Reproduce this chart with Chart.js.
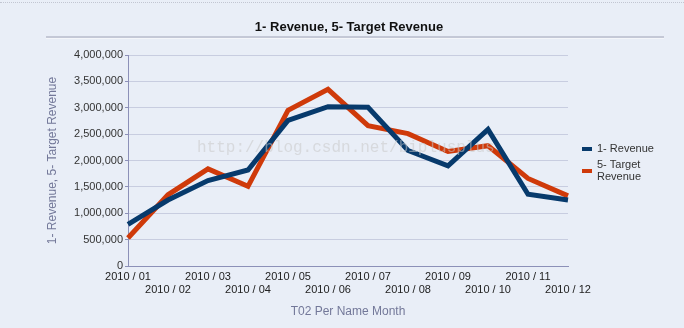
<!DOCTYPE html>
<html>
<head>
<meta charset="utf-8">
<script src="https://cdn.jsdelivr.net/npm/chart.js@4"></script>
<style>
  html, body { margin: 0; padding: 0; background: #e9eef7; }
  #wrap { position: relative; width: 684px; height: 328px; }
  #wrap:before { content: ''; position: absolute; left: 0; right: 0; top: 2px; border-top: 1px dotted #c2c6d2; }
</style>
</head>
<body>
<div id="wrap"><canvas id="chart" width="684" height="328"></canvas></div>
<script>
const months = ['2010 / 01', '2010 / 02', '2010 / 03', '2010 / 04', '2010 / 05', '2010 / 06',
  '2010 / 07', '2010 / 08', '2010 / 09', '2010 / 10', '2010 / 11', '2010 / 12'];
const revenue = [790000, 1250000, 1620000, 1820000, 2760000, 3020000,
  3010000, 2190000, 1900000, 2590000, 1360000, 1250000];
const targetRevenue = [530000, 1350000, 1840000, 1510000, 2950000, 3350000,
  2660000, 2510000, 2170000, 2280000, 1660000, 1330000];
const seriesNames = ['1- Revenue', '5- Target Revenue'];
const legendLines = [['1- Revenue'], ['5- Target', 'Revenue']];
const seriesColors = ['#073a6c', '#cf3a0a'];
const chartTitle = '1- Revenue, 5- Target Revenue';

// title (centred on the whole canvas), its underline, watermark and the legend
const extras = {
  id: 'extras',
  beforeDatasetsDraw(chart) {
    const ctx = chart.ctx;
    ctx.save();
    ctx.font = 'bold 13px "Liberation Sans Narrow", Arial, sans-serif';
    ctx.fillStyle = '#111';
    ctx.textAlign = 'center';
    ctx.textBaseline = 'middle';
    ctx.fillText(chartTitle, 349, 27);
    ctx.fillStyle = '#c4c8d6';
    ctx.fillRect(46, 36, 618, 2);
    ctx.fillStyle = '#f4f6fa';
    ctx.fillRect(46, 38, 618, 1);
    ctx.restore();
  },
  afterDatasetsDraw(chart) {
    const ctx = chart.ctx;
    ctx.save();
    ctx.font = '16px "Liberation Mono", monospace';
    ctx.fillStyle = 'rgba(200, 200, 200, 0.55)';
    ctx.textBaseline = 'middle';
    ctx.fillText('http://blog.csdn.net/biplusplus', 197, 148);
    ctx.restore();
  },
  afterDraw(chart) {
    const ctx = chart.ctx;
    ctx.save();
    ctx.font = '11px Arial, "Liberation Sans", sans-serif';
    ctx.textBaseline = 'middle';
    let y = 149;
    legendLines.forEach((lines, i) => {
      const markY = y + (lines.length - 1) * 6;
      ctx.fillStyle = seriesColors[i];
      ctx.fillRect(582, markY - 2, 10, 4);
      ctx.fillStyle = '#333';
      lines.forEach((t, j) => ctx.fillText(t, 597, y + j * 12));
      y += lines.length * 12 + 4;
    });
    ctx.restore();
  }
};

new Chart(document.getElementById('chart'), {
  type: 'line',
  data: {
    labels: months,
    datasets: [{
      label: seriesNames[0],
      data: revenue,
      borderColor: seriesColors[0],
      borderWidth: 5,
      pointRadius: 0,
      tension: 0,
      fill: false
    }, {
      label: seriesNames[1],
      data: targetRevenue,
      borderColor: seriesColors[1],
      borderWidth: 5,
      pointRadius: 0,
      tension: 0,
      fill: false
    }]
  },
  options: {
    responsive: false,
    devicePixelRatio: 1,
    animation: false,
    layout: { padding: { top: 55, left: 0, right: 116, bottom: 0 } },
    plugins: {
      legend: { display: false },
      tooltip: { enabled: false },
      title: { display: false }
    },
    scales: {
      x: {
        offset: false,
        grid: { display: false, drawTicks: false },
        border: { display: true, color: '#8c90b8', width: 1 },
        ticks: {
          autoSkip: false,
          maxRotation: 0,
          padding: 4,
          color: '#222',
          font: { family: 'Arial, sans-serif', size: 11 },
          callback: (v, i) => i % 2 === 0 ? months[i] : ['', months[i]]
        },
        title: {
          display: true,
          text: 'T02 Per Name Month',
          color: '#737899',
          font: { family: 'Arial, sans-serif', size: 12 },
          padding: { top: 4, bottom: 9 }
        },
        afterFit(scale) {
          scale.height = 62;
          scale.paddingLeft = 0;
          scale.paddingRight = 0;
        }
      },
      y: {
        min: 0,
        max: 4000000,
        grid: { color: '#c8cde0', tickLength: 3, tickColor: '#8c90b8' },
        border: { display: true, color: '#8c90b8', width: 1 },
        ticks: {
          stepSize: 500000,
          padding: 2,
          color: '#333',
          font: { family: 'Arial, sans-serif', size: 11 },
          callback: v => v.toLocaleString('en-US')
        },
        title: {
          display: true,
          text: '1- Revenue, 5- Target Revenue',
          color: '#737899',
          font: { family: 'Arial, sans-serif', size: 12 },
          padding: { top: 45, bottom: 0 }
        },
        afterFit(scale) {
          scale.width = 128;
          scale.paddingTop = 0;
          scale.paddingBottom = 0;
        }
      }
    }
  },
  plugins: [extras]
});
</script>
</body>
</html>
